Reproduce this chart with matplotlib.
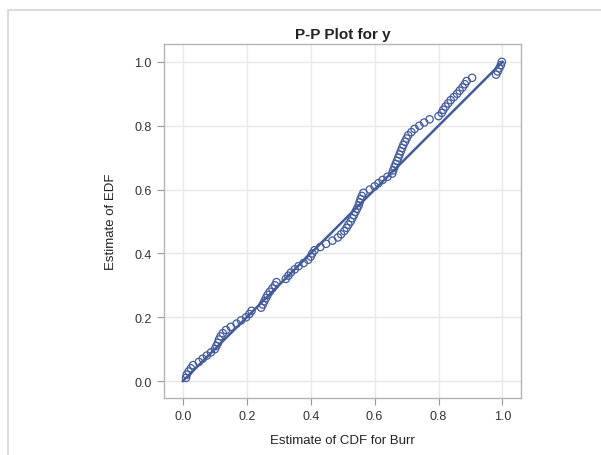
import matplotlib
matplotlib.use("Agg")
import matplotlib.pyplot as plt
from matplotlib.lines import Line2D

plt.rcParams['font.family'] = ['Liberation Sans', 'DejaVu Sans']

# estimate of CDF for Burr (x) and estimate of EDF (y)
cdf_burr = [0.010, 0.012, 0.018, 0.025, 0.032, 0.050, 0.062, 0.075, 0.088, 0.100,
            0.105, 0.110, 0.113, 0.118, 0.125, 0.135, 0.150, 0.168, 0.182, 0.198,
            0.208, 0.215, 0.245, 0.250, 0.255, 0.260, 0.265, 0.272, 0.280, 0.288,
            0.293, 0.322, 0.330, 0.338, 0.350, 0.362, 0.378, 0.392, 0.400, 0.405,
            0.412, 0.430, 0.448, 0.468, 0.485, 0.495, 0.505, 0.512, 0.518, 0.525,
            0.530, 0.535, 0.540, 0.545, 0.550, 0.553, 0.556, 0.560, 0.565, 0.585,
            0.600, 0.612, 0.625, 0.640, 0.655, 0.658, 0.662, 0.666, 0.670, 0.674,
            0.678, 0.682, 0.686, 0.690, 0.695, 0.700, 0.705, 0.715, 0.725, 0.740,
            0.755, 0.772, 0.800, 0.810, 0.815, 0.822, 0.830, 0.838, 0.848, 0.858,
            0.866, 0.875, 0.882, 0.888, 0.905, 0.980, 0.985, 0.990, 0.995, 0.998]
edf = [0.01, 0.02, 0.03, 0.04, 0.05, 0.06, 0.07, 0.08, 0.09, 0.10,
       0.11, 0.12, 0.13, 0.14, 0.15, 0.16, 0.17, 0.18, 0.19, 0.20,
       0.21, 0.22, 0.23, 0.24, 0.25, 0.26, 0.27, 0.28, 0.29, 0.30,
       0.31, 0.32, 0.33, 0.34, 0.35, 0.36, 0.37, 0.38, 0.39, 0.40,
       0.41, 0.42, 0.43, 0.44, 0.45, 0.46, 0.47, 0.48, 0.49, 0.50,
       0.51, 0.52, 0.53, 0.54, 0.55, 0.56, 0.57, 0.58, 0.59, 0.60,
       0.61, 0.62, 0.63, 0.64, 0.65, 0.66, 0.67, 0.68, 0.69, 0.70,
       0.71, 0.72, 0.73, 0.74, 0.75, 0.76, 0.77, 0.78, 0.79, 0.80,
       0.81, 0.82, 0.83, 0.84, 0.85, 0.86, 0.87, 0.88, 0.89, 0.90,
       0.91, 0.92, 0.93, 0.94, 0.95, 0.96, 0.97, 0.98, 0.99, 1.00]
ref_line = [0.0, 1.0]
ticks = [0.0, 0.2, 0.4, 0.6, 0.8, 1.0]

blue = '#445b9a'
W, H = 601, 456
fig = plt.figure(figsize=(W / 100, H / 100), dpi=100)
fig.patch.set_facecolor('white')

# outer frame of the output panel
fig.add_artist(Line2D([8 / W, 8 / W], [0, 1 - 11 / H], color='#d6d6d6', lw=1.2))
fig.add_artist(Line2D([8 / W, 1], [1 - 11 / H, 1 - 11 / H], color='#d6d6d6', lw=1.2))

ax = fig.add_axes([164 / W, 57 / H, 357 / W, 354 / H])
ax.plot(ref_line, ref_line, color=blue, lw=1.8, zorder=2)
ax.scatter(cdf_burr, edf, s=28, facecolors='none', edgecolors=blue, linewidths=0.9, zorder=3)

ax.set_xlim(-0.059, 1.058)
ax.set_ylim(-0.053, 1.056)
ax.set_xticks(ticks)
ax.set_yticks(ticks)
ax.set_xticklabels([f'{t:.1f}' for t in ticks])
ax.set_yticklabels([f'{t:.1f}' for t in ticks])
ax.grid(True, color='#e8e8e8', lw=1.0)
ax.set_axisbelow(True)
for s in ax.spines.values():
    s.set_color('#b4b4b4')
    s.set_linewidth(1.0)
ax.tick_params(colors='#9a9a9a', labelcolor='#333333', labelsize=9, length=5, width=0.8, pad=4)

ax.set_title('P-P Plot for y', fontsize=11, fontweight='bold', color='#222222', pad=4)
ax.set_xlabel('Estimate of CDF for Burr', fontsize=9.5, color='#222222', labelpad=8)
ax.set_ylabel('Estimate of EDF', fontsize=9.5, color='#222222', labelpad=12)

fig.savefig('out.png', dpi=100)
